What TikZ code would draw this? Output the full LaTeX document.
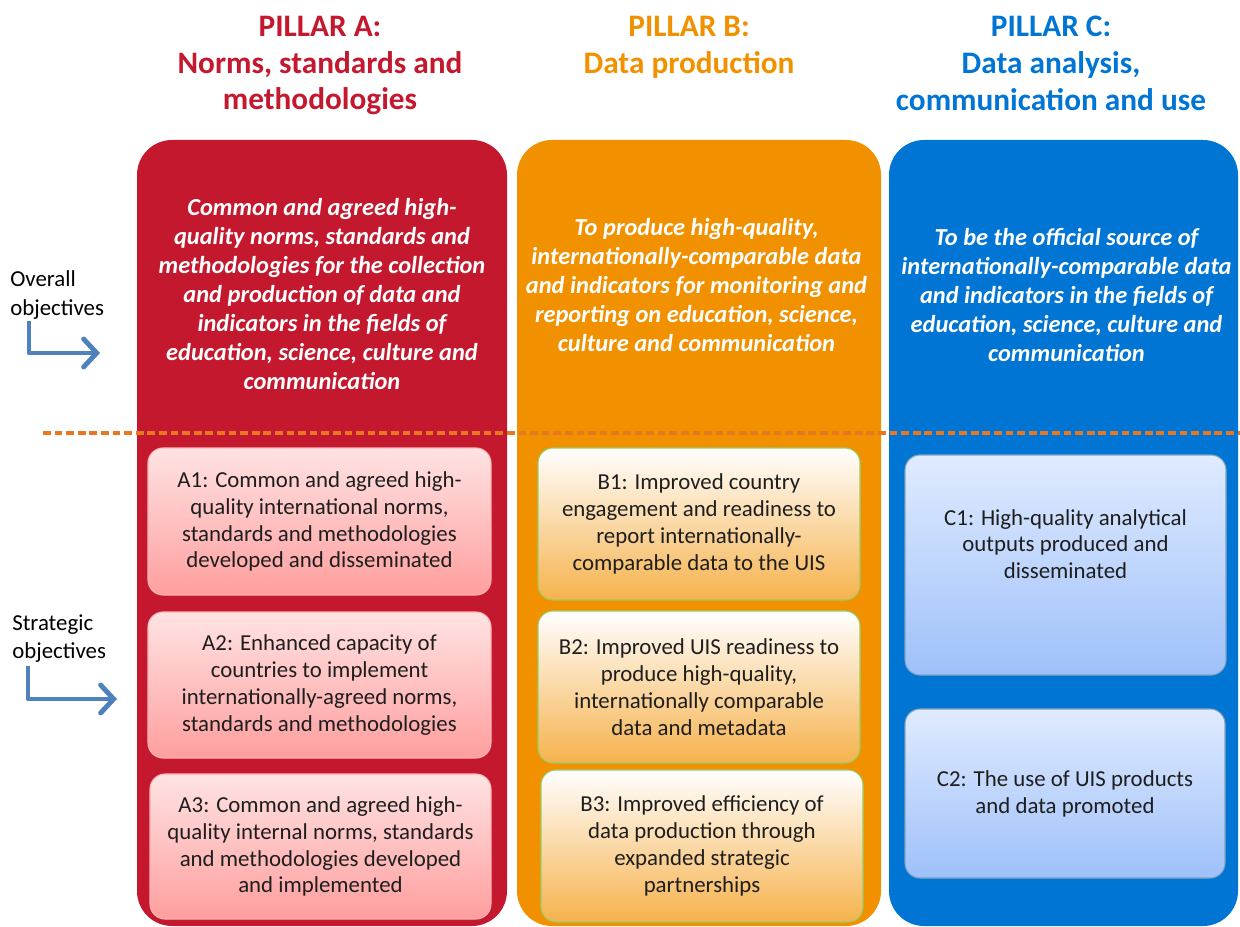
\documentclass[tikz,border=0pt]{standalone}
\usepackage{fontspec}
\setmainfont{Carlito}
\usepackage{xcolor}
\usetikzlibrary{arrows.meta,positioning}

\definecolor{redA}{RGB}{196,24,46}
\definecolor{orgB}{RGB}{242,145,0}
\definecolor{bluC}{RGB}{0,117,212}
\definecolor{arrblue}{RGB}{79,129,189}
\definecolor{divorg}{RGB}{232,119,34}
\definecolor{goaltext}{RGB}{30,30,30}
\definecolor{paleC}{RGB}{224,235,255}
\definecolor{deepC}{RGB}{158,192,250}

\begin{document}
\begin{tikzpicture}[
  pillar/.style={rounded corners=0.7cm, minimum height=15.72cm, inner sep=0pt},
  head/.style={font=\fontsize{17.8}{21}\selectfont\bfseries, align=center, anchor=north, inner sep=0pt},
  obj/.style={text=white, font=\fontsize{13.9}{16.5}\selectfont\bfseries\itshape, align=center, inner sep=0pt},
  goal/.style={rounded corners=0.3cm, line width=0.6pt, align=center, inner sep=0pt,
    font=\fontsize{13}{15.3}\selectfont, text=goaltext},
  goalA/.style={goal, draw=red!30, top color=red!11, bottom color=red!38},
  goalB/.style={goal, draw=green!35!olive!60, top color=white, bottom color=orgB!70},
  goalC/.style={goal, draw=bluC!40!gray!70, top color=paleC, bottom color=deepC},
  side/.style={font=\fontsize{13}{16}\selectfont, align=left, anchor=west, inner sep=0pt},
  arr/.style={draw=arrblue, line width=2.8pt, line join=round,
    -{Straight Barb[length=2.6mm,width=5.6mm,line cap=round]}}
]
\useasboundingbox (0,0) rectangle (24.8,-18.54);

% columns
\foreach \n/\x/\w/\c in {A/6.44/7.4/redA, B/13.98/7.28/orgB, C/21.27/6.98/bluC} {
  \node[pillar, fill=\c, minimum width=\w cm] (pil\n) at (\x,-10.66) {};
}

% headings
\node[head, text=redA] (headA) at (6.4,-0.31) {PILLAR A:\\Norms, standards and\\methodologies};
\node[head, text=orgB] (headB) at (13.78,-0.31) {PILLAR B:\\Data production};
\node[head, text=bluC] (headC) at (21.02,-0.31) {PILLAR C:\\Data analysis,\\communication and use};

% overall objectives
\node[obj] (objA) at (6.44,-5.88) {Common and agreed high-\\quality norms, standards and\\methodologies for the collection\\and production of data and\\indicators in the fields of\\education, science, culture and\\communication};
\node[obj] (objB) at (13.93,-5.71) {To produce high-quality,\\internationally-comparable data\\and indicators for monitoring and\\reporting on education, science,\\culture and communication};
\node[obj] (objC) at (21.33,-5.89) {To be the official source of\\internationally-comparable data\\and indicators in the fields of\\education, science, culture and\\communication};

% divider
\coordinate (divL) at (0.86,-8.66);
\coordinate (divR) at (24.8,-8.66);
\draw[divorg, line width=2pt, dash pattern=on 4.4pt off 2.2pt] (divL) -- (divR);

% strategic objectives
\node[goalA, minimum width=6.86cm, minimum height=2.94cm] (A1) at (6.39,-10.43) {A1: Common and agreed high-\\quality international norms,\\standards and methodologies\\developed and disseminated};
\node[goalA, minimum width=6.86cm, minimum height=2.92cm] (A2) at (6.39,-13.70) {A2: Enhanced capacity of\\countries to implement\\internationally-agreed norms,\\standards and methodologies};
\node[goalA, minimum width=6.82cm, minimum height=2.9cm] (A3) at (6.41,-16.93) {A3: Common and agreed high-\\quality internal norms, standards\\and methodologies developed\\and implemented};
\node[goalB, minimum width=6.44cm, minimum height=3.04cm] (B1) at (13.98,-10.48) {B1: Improved country\\engagement and readiness to\\report internationally-\\comparable data to the UIS};
\node[goalB, minimum width=6.44cm, minimum height=3.04cm] (B2) at (13.98,-13.74) {B2: Improved UIS readiness to\\produce high-quality,\\internationally comparable\\data and metadata};
\node[goalB, minimum width=6.44cm, minimum height=3.04cm] (B3) at (14.04,-16.92) {B3: Improved efficiency of\\data production through\\expanded strategic\\partnerships};
\node[goalC, minimum width=6.42cm, minimum height=4.4cm] (C1) at (21.31,-11.3) {C1: High-quality analytical\\outputs produced and\\disseminated\\[0.3cm]};
\node[goalC, minimum width=6.4cm, minimum height=3.38cm] (C2) at (21.3,-15.87) {C2: The use of UIS products\\and data promoted};

% row labels
\node[side] (ovl) at (0.2,-5.9) {Overall\\objectives};
\node[side] (strat) at (0.24,-12.77) {Strategic\\objectives};
\coordinate (ovltip) at (2.0,-7.06);
\coordinate (strattip) at (2.34,-13.98);
\draw[arr] ([xshift=0.38cm,yshift=-0.04cm]ovl.south west) |- (ovltip);
\draw[arr] ([xshift=0.32cm,yshift=-0.06cm]strat.south west) |- (strattip);
\end{tikzpicture}
\end{document}
